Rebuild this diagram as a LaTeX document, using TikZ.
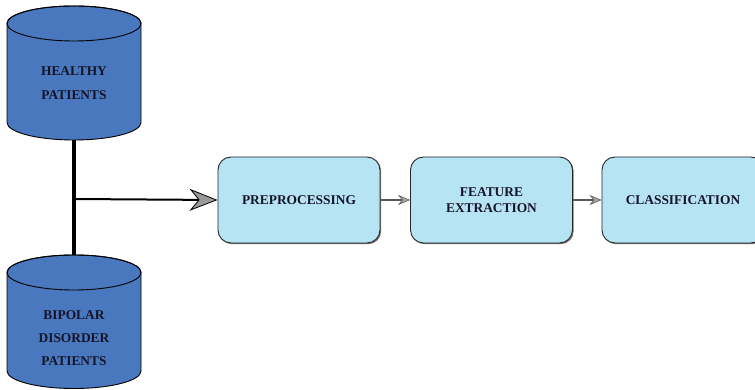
\documentclass[tikz,border=0pt]{standalone}
\usepackage{fontspec}
\setmainfont{Liberation Serif}
\usetikzlibrary{arrows.meta}
\definecolor{cylblue}{HTML}{4A78BE}
\definecolor{boxblue}{HTML}{B7E4F3}
\definecolor{txt}{HTML}{141428}
\tikzset{
  cyltext/.style={align=center, text=txt, font=\bfseries\fontsize{13.4}{24}\selectfont},
  cyltextb/.style={align=center, text=txt, font=\bfseries\fontsize{13.4}{23}\selectfont},
  stagebox/.style={draw=black!85, line width=0.9pt, fill=boxblue, rounded corners=13pt,
    minimum width=162pt, minimum height=86pt, align=center, text=txt,
    font=\bfseries\fontsize{13.4}{16}\selectfont, inner sep=0pt},
  shadowbox/.style={fill=black!55, rounded corners=13pt, minimum width=162pt, minimum height=86pt},
  bigarrow/.style={line width=2pt, -{Stealth[length=28pt, width=22pt, inset=9pt, fill=black!40, line width=0.8pt]}},
  smallarrow/.style={draw=black!65, line width=1.2pt, -{Stealth[length=12pt, width=10pt, inset=4pt, fill=black!35, line width=0.6pt]}},
  cylfill/.style={fill=cylblue, draw=black, line width=0.9pt}
}
\begin{document}
\begin{tikzpicture}[x=1pt,y=1pt]
\useasboundingbox (0,0) rectangle (755,390);
% cylinder 1
\path[cylfill] (7,366.5) -- (7,267.5) arc[start angle=180, end angle=360, x radius=67, y radius=17.5] -- (141,366.5) arc[start angle=0, end angle=180, x radius=67, y radius=17.5] -- cycle;
\draw[line width=0.9pt] (74,366.5) ellipse[x radius=67, y radius=17.5];
\node[cyltext] (healthy) at (74,307) {HEALTHY\\PATIENTS};
\coordinate (hbot) at (74,250);
% cylinder 2
\path[cylfill] (7,117.5) -- (7,19) arc[start angle=180, end angle=360, x radius=67, y radius=17.5] -- (141,117.5) arc[start angle=0, end angle=180, x radius=67, y radius=17.5] -- cycle;
\draw[line width=0.9pt] (74,117.5) ellipse[x radius=67, y radius=17.5];
\node[cyltextb] (bipolar) at (74,52) {BIPOLAR\\DISORDER\\PATIENTS};
\coordinate (btop) at (74,135);
% boxes
\node[shadowbox] at (300.2,188.8) {};
\node[shadowbox] at (492.7,188.8) {};
\node[shadowbox] at (684.2,188.8) {};
\node[stagebox] (pre) at (299,190) {PREPROCESSING};
\node[stagebox] (feat) at (491.5,190) {FEATURE\\EXTRACTION};
\node[stagebox] (cls) at (683,190) {CLASSIFICATION};
% connectors
\draw[line width=4.5pt] (hbot) -- (btop);
\coordinate (j) at (74,191);
\draw[bigarrow] (j) -- (pre.west);
\draw[smallarrow] (pre.east) -- (feat.west);
\draw[smallarrow] (feat.east) -- (cls.west);
\end{tikzpicture}
\end{document}
